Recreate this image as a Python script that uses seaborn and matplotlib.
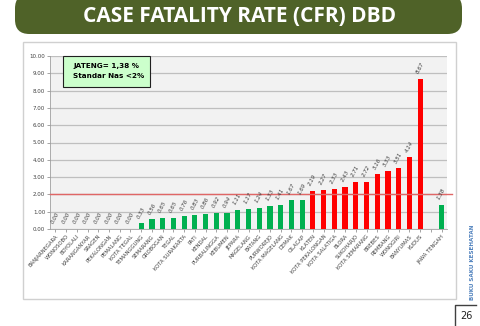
import matplotlib
matplotlib.use("Agg")
import matplotlib.pyplot as plt
import matplotlib.patches as mpatches
import seaborn as sns
import pandas as pd
import numpy as np

districts = ["BANJARNEGARA", "WONOSOBO", "BOYOLALI", "KARANGANYAR", "SRAGEN",
             "PEKALONGAN", "PEMALANG", "KOTA TEGAL", "TEMANGGUNG", "SEMARANG",
             "GROBOGAN", "TEGAL", "KOTA SURAKARTA", "PATI", "KENDAL",
             "PURBALINGGA", "KEBUMEN", "JEPARA", "MAGELANG", "BATANG",
             "PURWOREJO", "KOTA MAGELANG", "DEMAK", "CILACAP", "KLATEN",
             "KOTA PEKALONGAN", "KOTA SALATIGA", "BLORA", "SUKOHARJO",
             "KOTA SEMARANG", "BREBES", "REMBANG", "WONOGIRI", "BANYUMAS",
             "KUDUS", " ", "JAWA TENGAH"]
cfr = [0.00, 0.00, 0.00, 0.00, 0.00, 0.00, 0.00, 0.00, 0.33, 0.56,
       0.65, 0.65, 0.76, 0.83, 0.86, 0.92, 0.94, 1.11, 1.17, 1.24,
       1.33, 1.41, 1.67, 1.69, 2.19, 2.27, 2.33, 2.43, 2.71, 2.72,
       3.16, 3.33, 3.51, 4.14, 8.67, np.nan, 1.38]
standard = 2.0
yticks = [0, 1, 2, 3, 4, 5, 6, 7, 8, 9, 10]
title = "CASE FATALITY RATE (CFR) DBD"
box_lines = ["JATENG= 1,38 %", "Standar Nas <2%"]

df = pd.DataFrame({"district": districts, "cfr": cfr})
df["status"] = np.where(df["cfr"] >= standard, "over", "under")

W, H = 480, 326
fig = plt.figure(figsize=(W / 100, H / 100), dpi=100)
fig.patch.set_facecolor("white")

def fx(px):
    return px / W

def fy(py):
    return 1 - py / H

# outer chart frame
fig.patches.append(mpatches.Rectangle((fx(23), fy(299)), fx(456) - fx(23), fy(42) - fy(299),
                                      transform=fig.transFigure, facecolor="white",
                                      edgecolor="#D0D0D0", lw=1.0, zorder=-2))

# title banner
fig.patches.append(mpatches.FancyBboxPatch((fx(15), fy(34)), fx(462) - fx(15), fy(-6) - fy(34),
                                           boxstyle="round,pad=0,rounding_size=0.03",
                                           transform=fig.transFigure, facecolor="#4F6228",
                                           edgecolor="none", zorder=1, mutation_aspect=480 / 326))
fig.text(fx(240), fy(17), title, color="white", fontsize=15, fontweight="bold",
         family="Open Sans", ha="center", va="center", zorder=2)

ax = fig.add_axes([fx(50), fy(229), fx(447) - fx(50), fy(56) - fy(229)])
ax.set_zorder(1)
ax.set_facecolor("#F2F2F2")

sns.barplot(data=df, x="district", y="cfr", hue="status", order=districts,
            palette={"under": "#00B050", "over": "#FF0000"}, dodge=False,
            width=0.48, legend=False, ax=ax, zorder=3, saturation=1)

ax.set_ylim(0, 10)
ax.set_xlim(-0.5, len(districts) - 0.5)
ax.set_yticks(yticks)
ax.set_yticklabels([f"{v:.2f}" for v in yticks], fontsize=4, color="#404040")
ax.yaxis.grid(True, color="#BFBFBF", lw=0.9, zorder=0)
ax.xaxis.grid(False)
ax.set_axisbelow(True)
ax.set_xlabel("")
ax.set_ylabel("")
ax.set_xticks(range(len(districts)))
ax.set_xticklabels(districts, rotation=48, ha="right", rotation_mode="anchor",
                   fontsize=3.8, color="#404040")
ax.tick_params(axis="both", length=2, width=0.5, color="#808080", pad=1.5)
for s in ["top", "right"]:
    ax.spines[s].set_visible(False)
for s in ["left", "bottom"]:
    ax.spines[s].set_color("#A0A0A0")
    ax.spines[s].set_linewidth(0.6)

# value labels
for i, v in enumerate(cfr):
    if np.isnan(v):
        continue
    ax.annotate(f"{v:.2f}", xy=(i, v), xytext=(0, 3), textcoords="offset points",
                rotation=62, ha="center", va="bottom", fontsize=4,
                color="#404040", style="italic", zorder=5)

# national standard line
ax.axhline(standard, xmin=0, xmax=1.013, color="#E06666", lw=1.0, zorder=4, clip_on=False)

# annotation box
fig.patches.append(mpatches.Rectangle((fx(63), fy(87)), fx(150) - fx(63), fy(56) - fy(87),
                                      transform=fig.transFigure, facecolor="#CCFFCC",
                                      edgecolor="#202020", lw=0.8, zorder=6))
fig.text(fx(73), fy(66), box_lines[0], fontsize=5.2, fontweight="bold",
         ha="left", va="center", zorder=7)
fig.text(fx(73), fy(76.5), box_lines[1], fontsize=5.2, fontweight="bold",
         ha="left", va="center", zorder=7)

# side text and page number
fig.text(fx(473), fy(262), "BUKU SAKU KESEHATAN", rotation=90, fontsize=4.1,
         color="#4F81BD", fontweight="bold", ha="center", va="center")
fig.lines.append(plt.Line2D([fx(455), fx(455), fx(476)], [fy(326), fy(305), fy(305)],
                            transform=fig.transFigure, color="#404040", lw=1.0))
fig.text(fx(466), fy(316), "26", fontsize=7, color="#202020", ha="center", va="center")

fig.savefig("out.png", dpi=100)
